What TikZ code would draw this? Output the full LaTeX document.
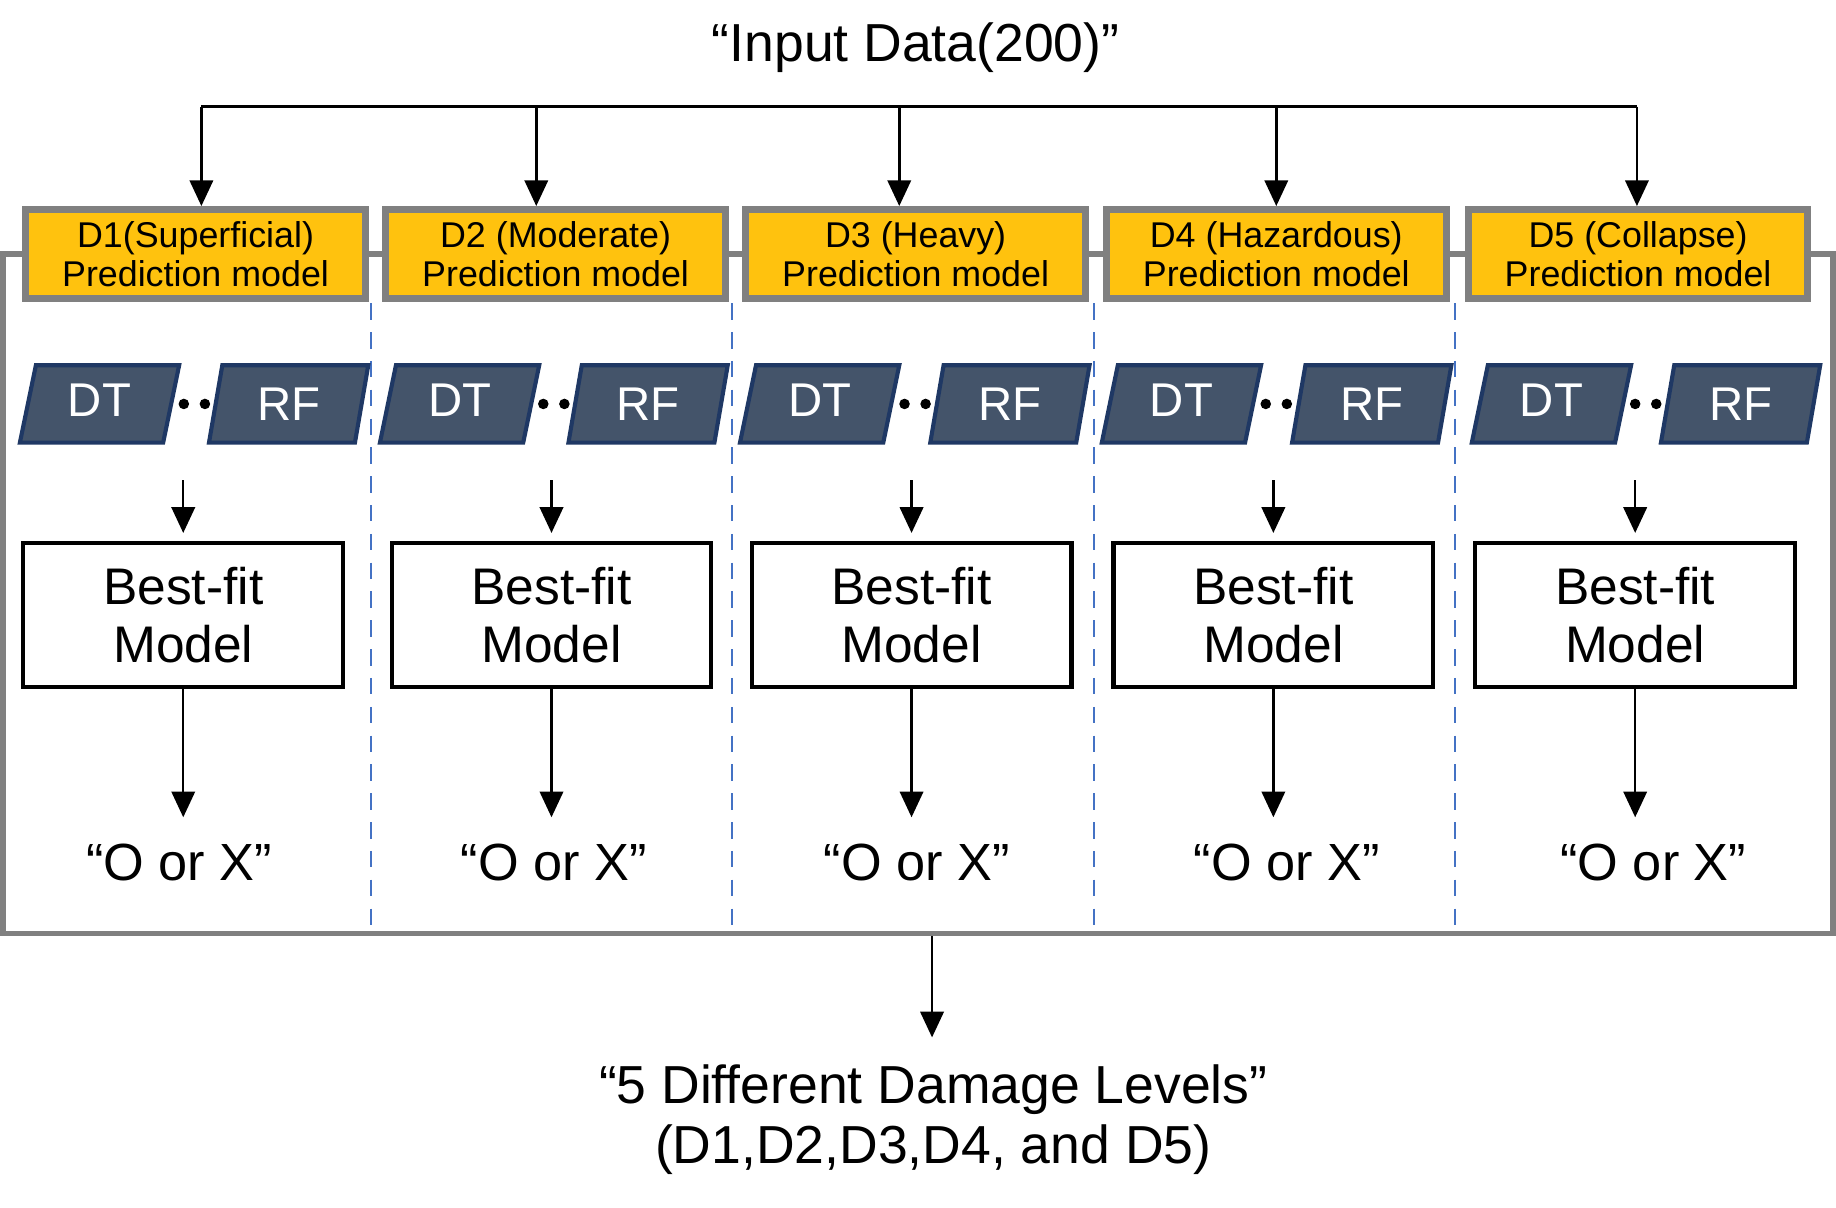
\documentclass[tikz,border=0pt]{standalone}
\usepackage{fontspec}
\setmainfont{Liberation Sans}
\usepackage{tikz}
\usetikzlibrary{shapes.geometric, arrows.meta, positioning}

\definecolor{boxyellow}{HTML}{FFC20E}
\definecolor{boxgray}{HTML}{808080}
\definecolor{slate}{HTML}{44546A}
\definecolor{navy}{HTML}{1F3864}
\definecolor{dashblue}{HTML}{4472C4}

\begin{document}
\begin{tikzpicture}[x=0.01cm, y=-0.01cm,
    arr/.style={-{Triangle[length=0.22cm, width=0.2cm]}, line width=0.6pt},
    frame/.style={draw=boxgray, line width=1.4pt, minimum width=15.62cm, minimum height=5.8cm, inner sep=0pt},
    levelbox/.style={draw=boxgray, line width=1.7pt, fill=boxyellow, minimum width=2.9cm, minimum height=0.76cm, inner sep=0pt, align=center, font=\fontsize{8.7}{9.4}\selectfont},
    algo/.style={trapezium, trapezium stretches=true, trapezium left angle=79, trapezium right angle=101, draw=navy, line width=1pt, fill=slate, text=white, minimum width=1.36cm, minimum height=0.66cm, inner sep=0pt, font=\fontsize{11.5}{12}\selectfont},
    bestfit/.style={draw, line width=1pt, minimum width=2.73cm, minimum height=1.23cm, inner sep=0pt, align=center, font=\fontsize{12.5}{14}\selectfont},
    sep/.style={dashblue, line width=0.5pt, dash pattern=on 4pt off 3pt}]
    \useasboundingbox (0,0) rectangle (1568,1031);

    \node[frame] (frame) at (784,507) {};
    \node[font=\fontsize{13}{15}\selectfont] (title) at (782,41) {“Input Data(200)”};

	\foreach \x in {317,625,934,1243} {
      \draw[sep] (\x,259) -- (\x,795);
    }

    % columns: box x / top arrow x / DT x / RF x / dots x / best-fit x / O-or-X x
	\foreach \i/\bx/\ax/\dx/\rx/\px/\fx/\ox/\name in {
        1/167/172/85/246.5/166/156.5/153/{D1(Superficial)},
        2/474.5/458/392.5/553.5/473/471/473/{D2 (Moderate)},
        3/782/768/700/862.5/781.5/778.5/783/{D3 (Heavy)},
        4/1090/1090/1009/1171.5/1090/1087.5/1099/{D4 (Hazardous)},
        5/1399/1398/1325/1486.5/1405.5/1396.5/1412/{D5 (Collapse)}} {
      \node[levelbox] (d\i) at (\bx,217) {\name\\Prediction model};
      \coordinate (t\i) at (\ax,91);
      \draw[arr] (t\i) -- (t\i |- d\i.north);

      \node[algo] (dt\i) at (\dx,345) {\raisebox{2pt}{DT}};
      \node[algo] (rf\i) at (\rx,345) {RF};
      \fill (\px-9,345) circle[radius=0.045cm];
      \fill (\px+9,345) circle[radius=0.045cm];

      \node[bestfit] (bf\i) at (\fx,525.5) {Best-fit\\Model};
      \coordinate (s\i) at (\fx,410);
      \draw[arr, shorten >=2pt] (s\i) -- (bf\i.north);

      \coordinate (e\i) at (\fx,698);
      \draw[arr] (bf\i.south) -- (e\i);
      \node[font=\fontsize{12.7}{15}\selectfont] (ox\i) at (\ox,737) {“O or X”};
    }
    \draw[line width=0.6pt] (t1) -- (t5);

    \node[align=center, inner sep=0pt, font=\fontsize{13}{14.5}\selectfont, anchor=north] (levels) at (797,909)
      {“5 Different Damage Levels”\\(D1,D2,D3,D4, and D5)};
    \draw[arr, shorten >=0.23cm] (frame.south -| 796,0) -- (levels.north -| 796,0);
\end{tikzpicture}
\end{document}
